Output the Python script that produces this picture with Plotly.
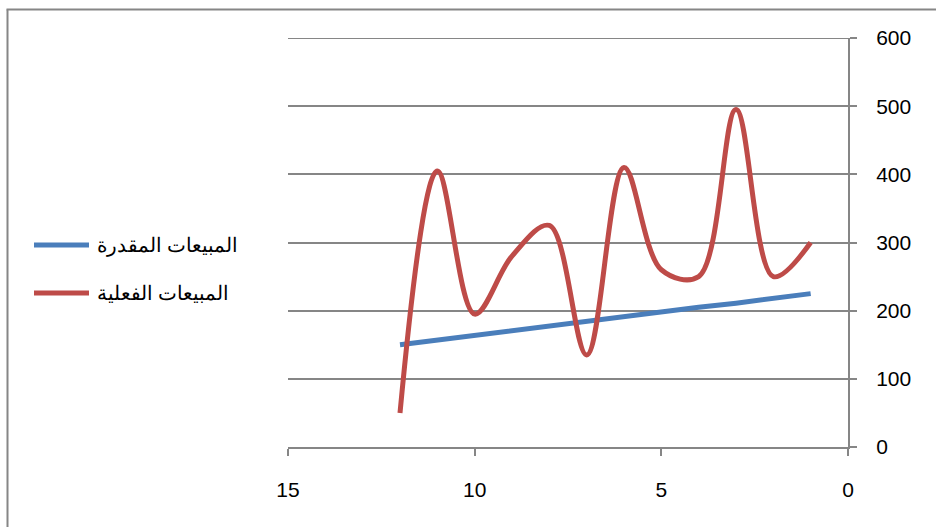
import plotly.graph_objects as go

# Period index (counted backwards on the axis) and monthly sales
periods = [12, 11, 10, 9, 8, 7, 6, 5, 4, 3, 2, 1]
actual_sales = [50, 405, 195, 280, 325, 135, 410, 260, 250, 495, 250, 300]
estimated_sales = [150, 157, 164, 170, 177, 184, 191, 198, 205, 211, 218, 225]

name_estimated = "المبيعات المقدرة"
name_actual = "المبيعات الفعلية"

x_ticks = [15, 10, 5, 0]
y_ticks = [0, 100, 200, 300, 400, 500, 600]

W, H = 936, 527
ML, MR, MT, MB = 288, 88, 38, 80
plot_w = W - ML - MR
plot_h = H - MT - MB

grey = "#868686"
blue = "#4A7EBB"
red = "#BE4B48"
font_family = "Liberation Sans, Arial, sans-serif"

fig = go.Figure()
fig.add_trace(go.Scatter(
    x=periods, y=estimated_sales, mode="lines", name=name_estimated,
    line=dict(color=blue, width=5), showlegend=False,
))
fig.add_trace(go.Scatter(
    x=periods, y=actual_sales, mode="lines", name=name_actual,
    line=dict(color=red, width=5, shape="spline", smoothing=1.0),
    showlegend=False,
))


def px_x(p):
    return (p - ML) / plot_w


def px_y(p):
    return (H - MB - p) / plot_h


# outer chart frame (left and top edges visible)
fig.add_shape(type="line", xref="paper", yref="paper",
              x0=px_x(7.5), y0=px_y(540), x1=px_x(7.5), y1=px_y(9.5),
              line=dict(color=grey, width=2))
fig.add_shape(type="line", xref="paper", yref="paper",
              x0=px_x(6.5), y0=px_y(9.5), x1=px_x(950), y1=px_y(9.5),
              line=dict(color=grey, width=2))

# top gridline at the upper end of the value axis
fig.add_shape(type="line", xref="paper", yref="y",
              x0=0, x1=1, y0=y_ticks[-1], y1=y_ticks[-1],
              line=dict(color=grey, width=2), layer="below")

# legend: sample line followed by series name
legend_rows = [(name_estimated, blue, 245), (name_actual, red, 293)]
for label, color, row_y in legend_rows:
    fig.add_shape(type="line", xref="paper", yref="paper",
                  x0=px_x(34), x1=px_x(89), y0=px_y(row_y), y1=px_y(row_y),
                  line=dict(color=color, width=5))
    fig.add_annotation(xref="paper", yref="paper",
                       x=px_x(95), y=px_y(row_y), xanchor="left", yanchor="middle",
                       text=label, showarrow=False,
                       font=dict(family=font_family, size=19.5, color="black"))

fig.update_layout(
    width=W, height=H,
    margin=dict(l=ML, r=MR, t=MT, b=MB),
    paper_bgcolor="white", plot_bgcolor="white",
    font=dict(family=font_family, size=21, color="black"),
    showlegend=False,
)
fig.update_xaxes(
    range=[15, 0], tickvals=x_ticks, ticktext=[str(v) for v in x_ticks],
    showgrid=False, zeroline=False,
    showline=True, linecolor=grey, linewidth=2,
    ticks="outside", ticklen=7, tickcolor=grey, tickwidth=2,
    ticklabelstandoff=16,
)
fig.update_yaxes(
    range=[0, 600], tickvals=y_ticks, side="right",
    showgrid=True, gridcolor=grey, gridwidth=2,
    zeroline=False,
    showline=True, linecolor=grey, linewidth=2,
    ticks="outside", ticklen=7, tickcolor=grey, tickwidth=2,
    ticklabelstandoff=15,
)

fig.write_html("out.html")
